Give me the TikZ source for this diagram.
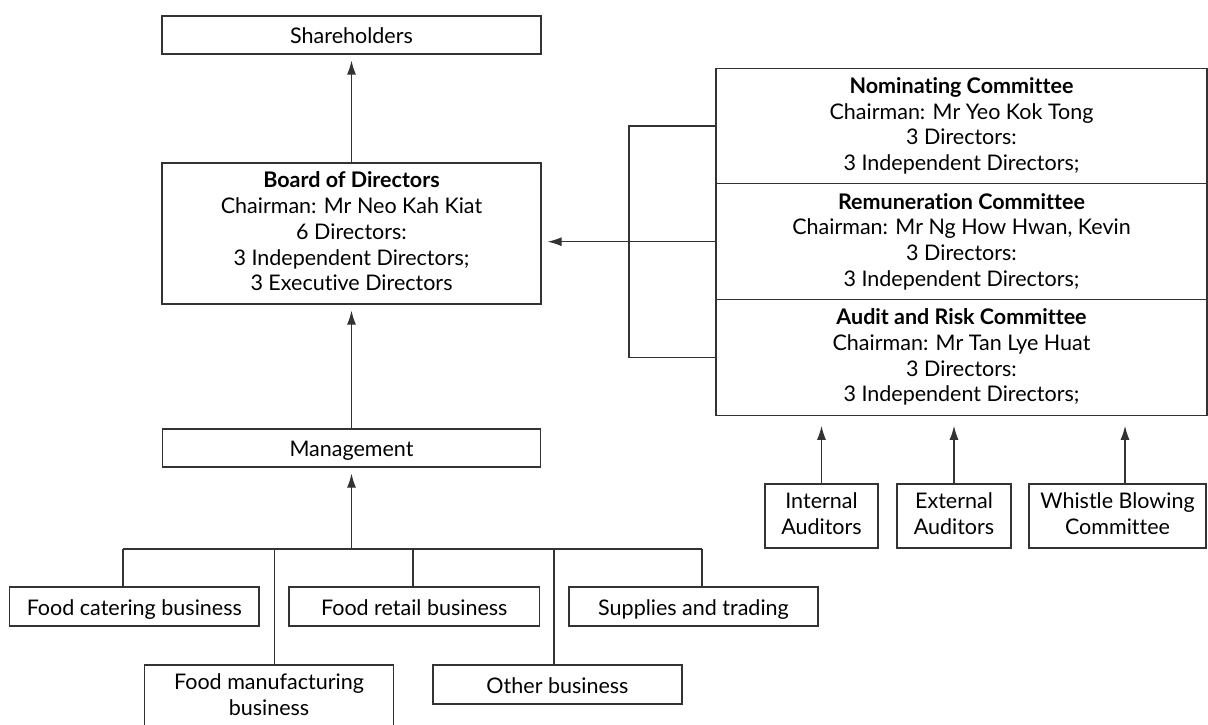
\documentclass[tikz,border=0pt]{standalone}
\usepackage{fontspec}
\setmainfont{Lato}[Ligatures=NoCommon]
\usetikzlibrary{arrows.meta}
\newcommand\boxstrut{\rule[-4.2pt]{0pt}{25.7pt}}
\begin{document}
\begin{tikzpicture}[x=1pt,y=-1pt,
  line width=1.2pt,draw=black!80,
  box/.style={draw=black!80,rectangle,inner sep=0pt,align=center,
    font=\fontsize{21.5}{25.7}\selectfont,
    execute at begin node=\boxstrut,execute at end node=\boxstrut},
  arr/.style={-{Latex[length=14pt,width=9pt]},shorten >=6pt}]
  \useasboundingbox (0,0) rectangle (1208,725);
  % Top of the chart
  \node[box,minimum width=379pt,minimum height=38pt] (share) at (351.5,35) {Shareholders};
  \node[box,minimum width=379pt,minimum height=141pt] (board) at (351.5,233.5)
    {\textbf{Board of Directors}\\Chairman: Mr Neo Kah Kiat\\6 Directors:\\3 Independent Directors;\\3 Executive Directors};
  \node[box,minimum width=378pt,minimum height=38pt] (mgmt) at (351.5,448) {Management};
  \draw[arr] (board.north) -- (share.south);
  \draw[arr] (mgmt.north) -- (board.south);
  % Committees
  \node[box,minimum width=491pt,minimum height=115.7pt] (nom) at (961.5,126)
    {\textbf{Nominating Committee}\\Chairman: Mr Yeo Kok Tong\\3 Directors:\\3 Independent Directors;};
  \node[box,minimum width=491pt,minimum height=115.7pt] (rem) at (961.5,241.7)
    {\textbf{Remuneration Committee}\\Chairman: Mr Ng How Hwan, Kevin\\3 Directors:\\3 Independent Directors;};
  \node[box,minimum width=491pt,minimum height=115.7pt] (audit) at (961.5,357.4)
    {\textbf{Audit and Risk Committee}\\Chairman: Mr Tan Lye Huat\\3 Directors:\\3 Independent Directors;};
  \coordinate (brk) at (629,241.7);
  \draw (nom.west) -| (brk) |- (audit.west);
  \draw[arr] (rem.west) -- (rem.west -| board.east);
  % Below the audit committee
  \node[box,minimum width=113pt,minimum height=64pt] (intaud) at (821.5,516) {Internal\\Auditors};
  \node[box,minimum width=114pt,minimum height=64pt] (extaud) at (954,516) {External\\Auditors};
  \node[box,minimum width=177pt,minimum height=64pt] (whistle) at (1117.5,516) {Whistle Blowing\\Committee};
  \draw[arr,shorten >=10pt] (intaud.north) -- (intaud.north |- audit.south);
  \draw[arr,shorten >=10pt] (extaud.north) -- (extaud.north |- audit.south);
  \draw[arr,shorten >=10pt] ([xshift=7.5pt]whistle.north) -- ([xshift=7.5pt]whistle.north |- audit.south);
  % Businesses
  \node[box,minimum width=249.5pt,minimum height=39pt] (cater) at (134.3,606.5) {Food catering business};
  \node[box,minimum width=250.5pt,minimum height=39pt] (retail) at (414.3,606.5) {Food retail business};
  \node[box,minimum width=249pt,minimum height=39pt] (supply) at (693.5,606.5) {Supplies and trading};
  \node[box,minimum width=249.5pt,minimum height=64pt] (manuf) at (269,697) {Food manufacturing\\business};
  \node[box,minimum width=249pt,minimum height=39pt] (other) at (557.5,684.5) {Other business};
  \coordinate (bar1) at (123,549);
  \coordinate (bar2) at (274.6,549);
  \coordinate (bar3) at (413,549);
  \coordinate (bar4) at (554,549);
  \coordinate (bar5) at (702,549);
  \draw (bar1) -- (bar5);
  \draw[arr] (mgmt.south |- bar1) -- (mgmt.south);
  \draw (bar1) -- (bar1 |- cater.north);
  \draw (bar2) -- (bar2 |- manuf.north);
  \draw (bar3) -- (bar3 |- retail.north);
  \draw (bar4) -- (bar4 |- other.north);
  \draw (bar5) -- (bar5 |- supply.north);
\end{tikzpicture}
\end{document}
